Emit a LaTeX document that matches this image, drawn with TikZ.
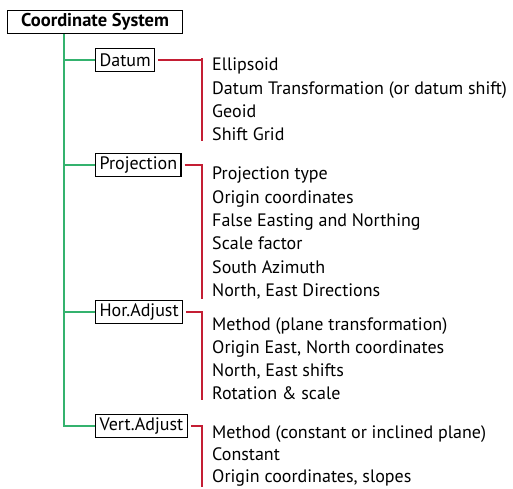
\documentclass[tikz,border=0pt]{standalone}
\usepackage{fontspec}
\setmainfont{PT Sans}
\usepackage{tikz}
\usepackage{xcolor}
\definecolor{trunkgreen}{RGB}{52,178,110}
\definecolor{legred}{RGB}{196,30,52}

\begin{document}
\begin{tikzpicture}[x=1pt, y=-1pt,
    box/.style={draw, line width=1.2pt, inner xsep=4pt, inner ysep=0pt,
      minimum height=23pt, font=\fontsize{18}{20}\selectfont},
    items/.style={align=left, inner sep=0pt, anchor=north west,
      font=\fontsize{18}{23.3}\selectfont},
    branch/.style={trunkgreen, line width=2.8pt},
    leg/.style={legred, line width=2.8pt}]
    \useasboundingbox (0,0) rectangle (513,488);

    \node [box, font=\fontsize{18.5}{20}\selectfont\bfseries, minimum width=175pt,
      anchor=north west] (sys) at (7,10) {Coordinate System};

    \node [box, anchor=west] (datum) at (95,60) {Datum};
    \node [box, anchor=west] (proj) at (95,165) {Projection};
    \node [box, anchor=west] (hadj) at (95,312) {Hor.Adjust};
    \node [box, anchor=west] (vadj) at (95,426) {Vert.Adjust};

    %% the lists on the right
    \node [items] (dlist) at (212,58) {
      Ellipsoid\\
      Datum Transformation (or datum shift)\\
      Geoid\\
      Shift Grid};
    \node [items] (plist) at (212,167) {
      Projection type\\
      Origin coordinates\\
      False Easting and Northing\\
      Scale factor\\
      South Azimuth\\
      North, East Directions};
    \node [items] (hlist) at (212,317) {
      Method (plane transformation)\\
      Origin East, North coordinates\\
      North, East shifts\\
      Rotation \& scale};
    \node [items, font=\fontsize{18}{22.3}\selectfont] (vlist) at (212,425) {
      Method (constant or inclined plane)\\
      Constant\\
      Origin coordinates, slopes};

    %% green tree
    \coordinate (root) at ([xshift=57pt]sys.south west);
    \foreach \b in {datum, proj, hadj, vadj}
      \draw [branch] (root) |- (\b.west);

    %% red brackets
    \foreach \b/\l in {datum/dlist, proj/plist, hadj/hlist, vadj/vlist}
      \draw [leg] ([xshift=3pt]\b.east) -| ([xshift=-10pt]\l.north west)
        -- ([xshift=-10pt]\l.south west);
\end{tikzpicture}
\end{document}
